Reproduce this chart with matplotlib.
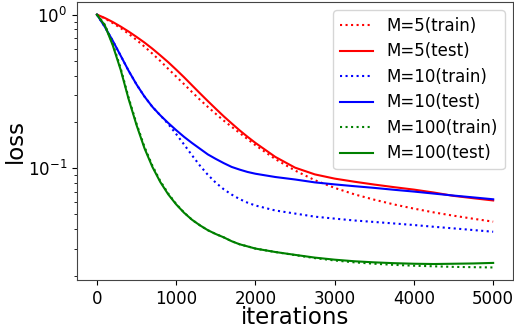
import matplotlib
matplotlib.use('Agg')
import matplotlib.pyplot as plt

iters = [0, 100, 200, 300, 400, 500, 600, 700, 800, 900, 1000, 1100, 1200, 1300, 1400, 1500,
         1600, 1700, 1800, 1900, 2000, 2250, 2500, 2750, 3000, 3250, 3500, 3750, 4000,
         4250, 4500, 4750, 5000]

m5_train = [1.0, 0.944, 0.881, 0.817, 0.75, 0.684, 0.619, 0.557, 0.499, 0.4436, 0.3954, 0.3524,
            0.3133, 0.2793, 0.2506, 0.226, 0.2042, 0.1862, 0.1698, 0.1549, 0.1413, 0.1148, 0.0966,
            0.0836, 0.0745, 0.0676, 0.0624, 0.0581, 0.0546, 0.0516, 0.0491, 0.0469, 0.0449]
m5_test = [1.0, 0.951, 0.895, 0.836, 0.776, 0.716, 0.658, 0.6, 0.543, 0.49, 0.4385, 0.391, 0.3467,
           0.3076, 0.2735, 0.2438, 0.2178, 0.1959, 0.1766, 0.1603, 0.1462, 0.1186, 0.1009, 0.0912,
           0.0856, 0.0817, 0.0783, 0.0753, 0.0726, 0.0695, 0.0661, 0.0638, 0.0617]
m10_train = [1.0, 0.832, 0.676, 0.54, 0.431, 0.351, 0.293, 0.251, 0.221, 0.194, 0.167, 0.1427,
             0.1214, 0.104, 0.0906, 0.0805, 0.073, 0.0674, 0.063, 0.0597, 0.0572, 0.0531, 0.0507,
             0.0484, 0.047, 0.0457, 0.0447, 0.0437, 0.0427, 0.0416, 0.0406, 0.0396, 0.0386]
m10_test = [1.0, 0.832, 0.676, 0.54, 0.431, 0.351, 0.293, 0.251, 0.221, 0.197, 0.177, 0.16, 0.146,
            0.134, 0.123, 0.115, 0.108, 0.102, 0.098, 0.0946, 0.0921, 0.0877, 0.0845, 0.0809,
            0.0785, 0.0764, 0.0745, 0.0724, 0.0705, 0.0684, 0.0664, 0.0646, 0.0628]
m100_train = [1.0, 0.86, 0.645, 0.447, 0.288, 0.195, 0.138, 0.104, 0.0825, 0.0685, 0.0585, 0.0515,
              0.0462, 0.0425, 0.0395, 0.0373, 0.0355, 0.0335, 0.032, 0.031, 0.030, 0.0285, 0.0272,
              0.026, 0.0251, 0.0244, 0.0239, 0.0235, 0.0232, 0.023, 0.0228, 0.0227, 0.0226]
m100_test = [1.0, 0.851, 0.631, 0.437, 0.282, 0.191, 0.135, 0.102, 0.0813, 0.0676, 0.0582, 0.0513,
             0.0462, 0.0425, 0.0395, 0.0373, 0.0355, 0.0335, 0.032, 0.031, 0.030, 0.0285, 0.0273,
             0.0262, 0.0254, 0.0248, 0.0244, 0.0241, 0.0239, 0.0238, 0.0239, 0.024, 0.0242]

fig = plt.figure(figsize=(5.14, 3.28), dpi=100)
ax = fig.add_axes([0.15, 0.146, 0.848, 0.848])

ax.plot(iters, m5_train, color='red', linestyle=':', linewidth=1.5, label='M=5(train)')
ax.plot(iters, m5_test, color='red', linewidth=1.5, label='M=5(test)')
ax.plot(iters, m10_train, color='blue', linestyle=':', linewidth=1.5, label='M=10(train)')
ax.plot(iters, m10_test, color='blue', linewidth=1.5, label='M=10(test)')
ax.plot(iters, m100_train, color='green', linestyle=':', linewidth=1.5, label='M=100(train)')
ax.plot(iters, m100_test, color='green', linewidth=1.5, label='M=100(test)')

ax.set_yscale('log')
ax.set_xlabel('iterations', fontsize=16.5, labelpad=-1)
ax.set_ylabel('loss', fontsize=16.5, labelpad=1)
ax.tick_params(axis='both', which='major', labelsize=12)
for sp in ax.spines.values():
    sp.set_color('#444444')

ax.legend(loc='upper right', fontsize=12, handlelength=2.0, labelspacing=0.45)

fig.savefig('out.png', dpi=100)
